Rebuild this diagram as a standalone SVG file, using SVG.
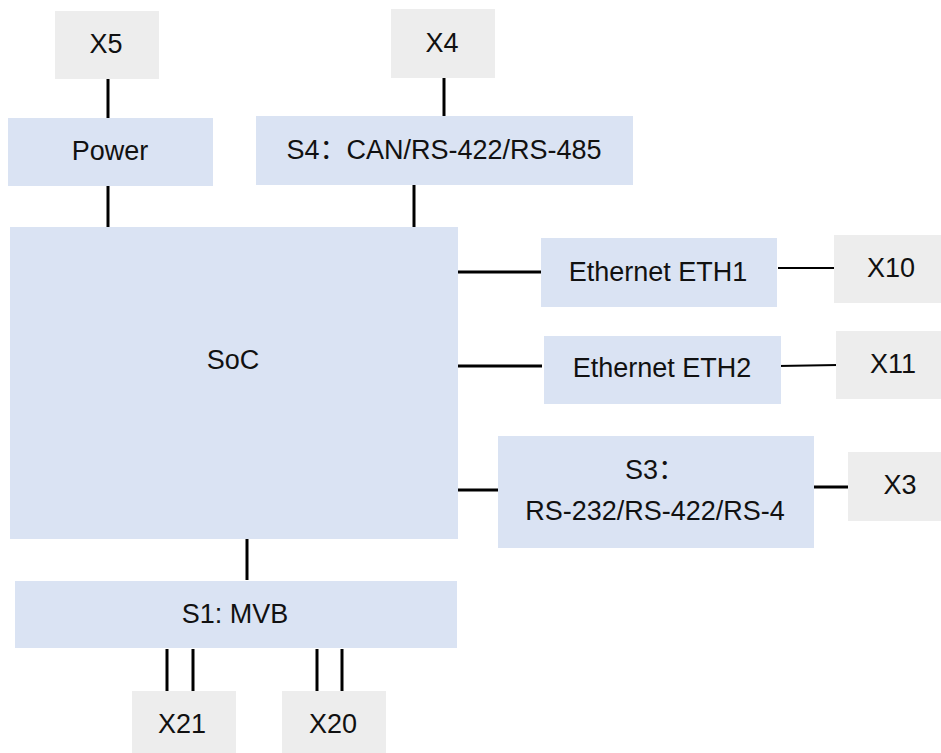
<svg xmlns="http://www.w3.org/2000/svg" width="941" height="753" viewBox="0 0 941 753">
<style>
.b{fill:#DAE3F3}
.g{fill:#EDEDED}
text{font-family:"Liberation Sans",Arial,"Noto Sans CJK SC",sans-serif;font-size:27px;fill:#111;text-anchor:middle}
.c line{stroke:#000;stroke-width:3}
.c .t{stroke-width:2}
</style>
<rect width="941" height="753" fill="#fff"/>
<g class="c" id="connectors">
<line x1="108" y1="77" x2="108" y2="119"/>
<line x1="444" y1="75" x2="444" y2="117"/>
<line x1="108" y1="186" x2="108" y2="228"/>
<line x1="414" y1="184" x2="414" y2="228"/>
<line x1="456" y1="272" x2="544" y2="272"/>
<line class="t" x1="778" y1="268" x2="836" y2="268"/>
<line x1="457" y1="366" x2="542" y2="366"/>
<line class="t" x1="778" y1="366" x2="838" y2="365"/>
<line x1="455" y1="490" x2="499" y2="490"/>
<line x1="813" y1="487" x2="850" y2="487"/>
<line x1="247" y1="539" x2="247" y2="580"/>
<line x1="167" y1="649" x2="167" y2="691"/>
<line x1="193" y1="649" x2="193" y2="691"/>
<line x1="317" y1="649" x2="317" y2="691"/>
<line x1="342" y1="649" x2="342" y2="691"/>
</g>
<g id="X5"><rect class="g" x="55" y="11" width="104" height="68"/><text x="106" y="53">X5</text></g>
<g id="X4"><rect class="g" x="391" y="9" width="104" height="69"/><text x="442" y="52">X4</text></g>
<g id="Power"><rect class="b" x="8" y="118" width="205" height="68"/><text x="110" y="160">Power</text></g>
<g id="S4"><rect class="b" x="256" y="116" width="377" height="69"/><text x="444" y="159">S4：CAN/RS-422/RS-485</text></g>
<g id="SoC"><rect class="b" x="10" y="227" width="448" height="312"/><text x="233" y="369">SoC</text></g>
<g id="ETH1"><rect class="b" x="541" y="238" width="236" height="69"/><text x="658" y="281">Ethernet ETH1</text></g>
<g id="X10"><rect class="g" x="834" y="235" width="110" height="68"/><text x="891" y="277">X10</text></g>
<g id="ETH2"><rect class="b" x="544" y="336" width="237" height="68"/><text x="662" y="377">Ethernet ETH2</text></g>
<g id="X11"><rect class="g" x="836" y="331" width="110" height="68"/><text x="893" y="373">X11</text></g>
<g id="S3"><rect class="b" x="498" y="436" width="316" height="112"/><text x="655" y="479">S3：</text><text x="655" y="520">RS-232/RS-422/RS-4</text></g>
<g id="X3"><rect class="g" x="848" y="452" width="100" height="69"/><text x="900" y="494">X3</text></g>
<g id="S1"><rect class="b" x="15" y="581" width="442" height="67"/><text x="235" y="623">S1: MVB</text></g>
<g id="X21"><rect class="g" x="132" y="691" width="104" height="70"/><text x="182" y="733">X21</text></g>
<g id="X20"><rect class="g" x="282" y="691" width="104" height="70"/><text x="333" y="733">X20</text></g>
</svg>
